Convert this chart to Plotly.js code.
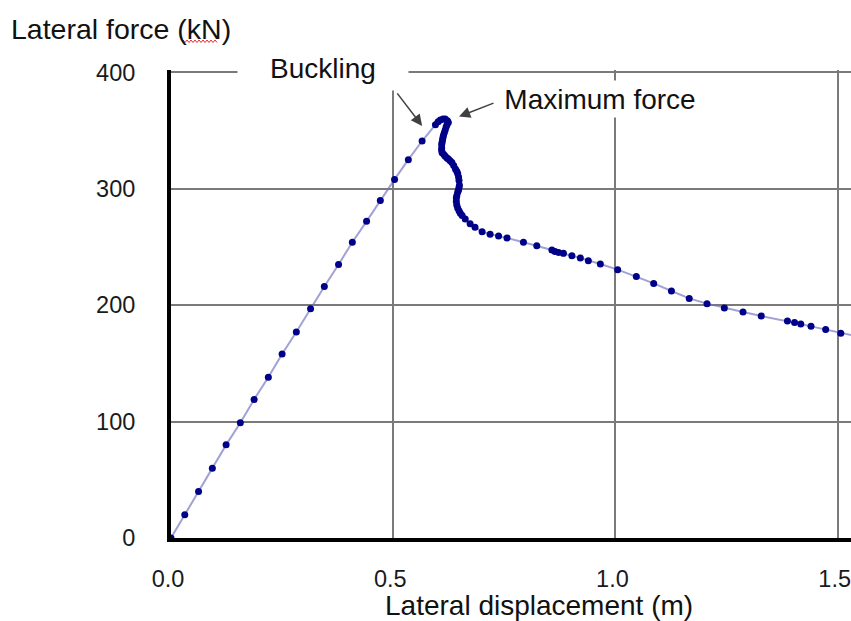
<!DOCTYPE html>
<html>
<head>
<meta charset="utf-8">
<script src="https://cdn.plot.ly/plotly-3.0.1.min.js"></script>
<style>
html,body{margin:0;padding:0;background:#fff;}
#chart{width:851px;height:621px;}
</style>
</head>
<body>
<div id="chart"></div>
<script>
// Lateral displacement (m)
const displacement = [
  0, 0.031, 0.062, 0.093, 0.124, 0.156, 0.187, 0.219, 0.250, 0.282,
  0.314, 0.345, 0.377, 0.408, 0.440, 0.471, 0.503, 0.534, 0.565, 0.595,
  0.601, 0.606, 0.612, 0.617, 0.622, 0.624, 0.621, 0.619, 0.617, 0.615, 0.613, 0.612, 0.611, 0.610, 0.609, 0.609, 0.609, 0.610,
  0.614, 0.617, 0.621, 0.624, 0.628, 0.632, 0.636, 0.640, 0.643, 0.645, 0.647, 0.648, 0.649, 0.648, 0.647,
  0.645, 0.643, 0.642, 0.642, 0.643, 0.645, 0.648, 0.651, 0.655, 0.662, 0.673, 0.684, 0.700,
  0.718, 0.737, 0.756, 0.793, 0.823, 0.857, 0.864, 0.872, 0.883, 0.902,
  0.921, 0.939, 0.966, 1.005, 1.047, 1.086, 1.126, 1.166, 1.206, 1.245,
  1.287, 1.328, 1.387, 1.403, 1.417, 1.440, 1.473, 1.507, 1.57
];
// Lateral force (kN)
const force = [
  0, 20, 40, 60, 80, 99, 119, 138, 158, 177,
  197, 216, 235, 254, 272, 290, 308, 325, 341, 355,
  357.5, 359, 360, 360, 358.5, 357, 355, 353, 350.5, 348, 346, 344, 342, 340, 338, 335, 333, 331,
  329.5, 328, 326.5, 325.5, 324, 322.6, 320, 317, 315, 313, 310, 307, 303, 301, 299,
  297, 294, 292, 289, 286, 283.5, 281, 279, 277, 274, 270, 267, 263,
  261, 259.4, 257.7, 254, 251, 247.4, 246.2, 245.3, 244.5, 242.5,
  240.5, 238.2, 235.4, 230.5, 224.7, 218.7, 212.2, 205.8, 201.3, 197.6,
  194.2, 190.7, 186.4, 185.2, 183.9, 181.8, 179, 175.8, 171
];
const xTickVals = [0, 0.5, 1.0, 1.5];
const xTickText = ["0.0", "0.5", "1.0", "1.5"];
const yTickVals = [0, 100, 200, 300, 400];
const yTickText = ["0", "100", "200", "300", "400"];

const FONT = '"Liberation Sans", Arial, sans-serif';

const trace = {
  x: displacement,
  y: force,
  type: 'scatter',
  mode: 'lines+markers',
  line: {color: 'rgba(110,110,190,0.65)', width: 2},
  marker: {color: '#000088', size: 7},
  cliponaxis: true,
  showlegend: false,
  hoverinfo: 'x+y'
};

// red spell-check squiggle under "kN"
let sq = '';
const sx0 = 183, sx1 = 218, sy = 41;
for (let i = 0, px = sx0; px <= sx1; i++, px += 2) {
  const xp = ((px - 171) / 680).toFixed(5);
  const yp = ((538 - (sy + (i % 2 ? 1.5 : -1))) / 468).toFixed(5);
  sq += (i === 0 ? 'M' : 'L') + xp + ',' + yp + ' ';
}

const layout = {
  width: 851,
  height: 621,
  margin: {l: 171, r: 0, t: 70, b: 83, pad: 0},
  paper_bgcolor: '#ffffff',
  plot_bgcolor: '#ffffff',
  font: {family: FONT, color: '#111111'},
  xaxis: {
    range: [0, 1.53],
    tickvals: xTickVals,
    ticktext: xTickText,
    showgrid: true,
    gridcolor: '#7a7a7a',
    gridwidth: 2,
    zeroline: false,
    showline: true,
    linecolor: '#000000',
    linewidth: 4,
    ticks: '',
    ticklabelstandoff: 17,
    ticklabelshift: -3,
    ticklabeloverflow: 'allow',
    tickfont: {family: FONT, size: 23.5, color: '#1a1a1a'},
    fixedrange: true
  },
  yaxis: {
    range: [0, 402],
    tickvals: yTickVals,
    ticktext: yTickText,
    showgrid: true,
    gridcolor: '#7a7a7a',
    gridwidth: 2,
    zeroline: false,
    showline: true,
    linecolor: '#000000',
    linewidth: 4,
    ticks: '',
    ticklabelstandoff: 27,
    ticklabeloverflow: 'allow',
    tickfont: {family: FONT, size: 23.5, color: '#1a1a1a'},
    fixedrange: true
  },
  shapes: [
    {type: 'path', xref: 'paper', yref: 'paper', path: sq,
     line: {color: '#e03030', width: 1}}
  ],
  annotations: [
    {text: 'Lateral force (kN)', xref: 'paper', yref: 'paper',
     x: (9 - 171) / 680, y: (538 - 29) / 468, xanchor: 'left', yanchor: 'middle',
     showarrow: false, font: {family: FONT, size: 28.5, color: '#111111'}},
    {text: 'Lateral displacement (m)', xref: 'paper', yref: 'paper',
     x: (539 - 171) / 680, y: (538 - 605) / 468, xanchor: 'center', yanchor: 'middle',
     showarrow: false, font: {family: FONT, size: 28, color: '#111111'}},
    {text: 'Buckling', xref: 'paper', yref: 'paper',
     x: (323 - 171) / 680, y: (538 - 68) / 468, xanchor: 'center', yanchor: 'middle',
     width: 170, height: 44, bgcolor: '#ffffff', borderpad: 0,
     showarrow: false, font: {family: FONT, size: 28, color: '#111111'}},
    {text: 'Maximum force', xref: 'paper', yref: 'paper',
     x: (600 - 171) / 680, y: (538 - 99) / 468, xanchor: 'center', yanchor: 'middle',
     width: 206, height: 36, bgcolor: '#ffffff', borderpad: 0,
     showarrow: false, font: {family: FONT, size: 28, color: '#111111'}},
    {text: '', x: 0.565, y: 354, xref: 'x', yref: 'y',
     showarrow: true, axref: 'pixel', ayref: 'pixel', ax: -26, ay: -34,
     arrowhead: 2, arrowsize: 1.5, arrowwidth: 1.5, arrowcolor: '#404040', standoff: 0},
    {text: '', x: 0.648, y: 362, xref: 'x', yref: 'y',
     showarrow: true, axref: 'pixel', ayref: 'pixel', ax: 36, ay: -14,
     arrowhead: 2, arrowsize: 1.5, arrowwidth: 1.5, arrowcolor: '#404040', standoff: 0}
  ]
};

Plotly.newPlot('chart', [trace], layout, {displayModeBar: false, staticPlot: true});
</script>
</body>
</html>
